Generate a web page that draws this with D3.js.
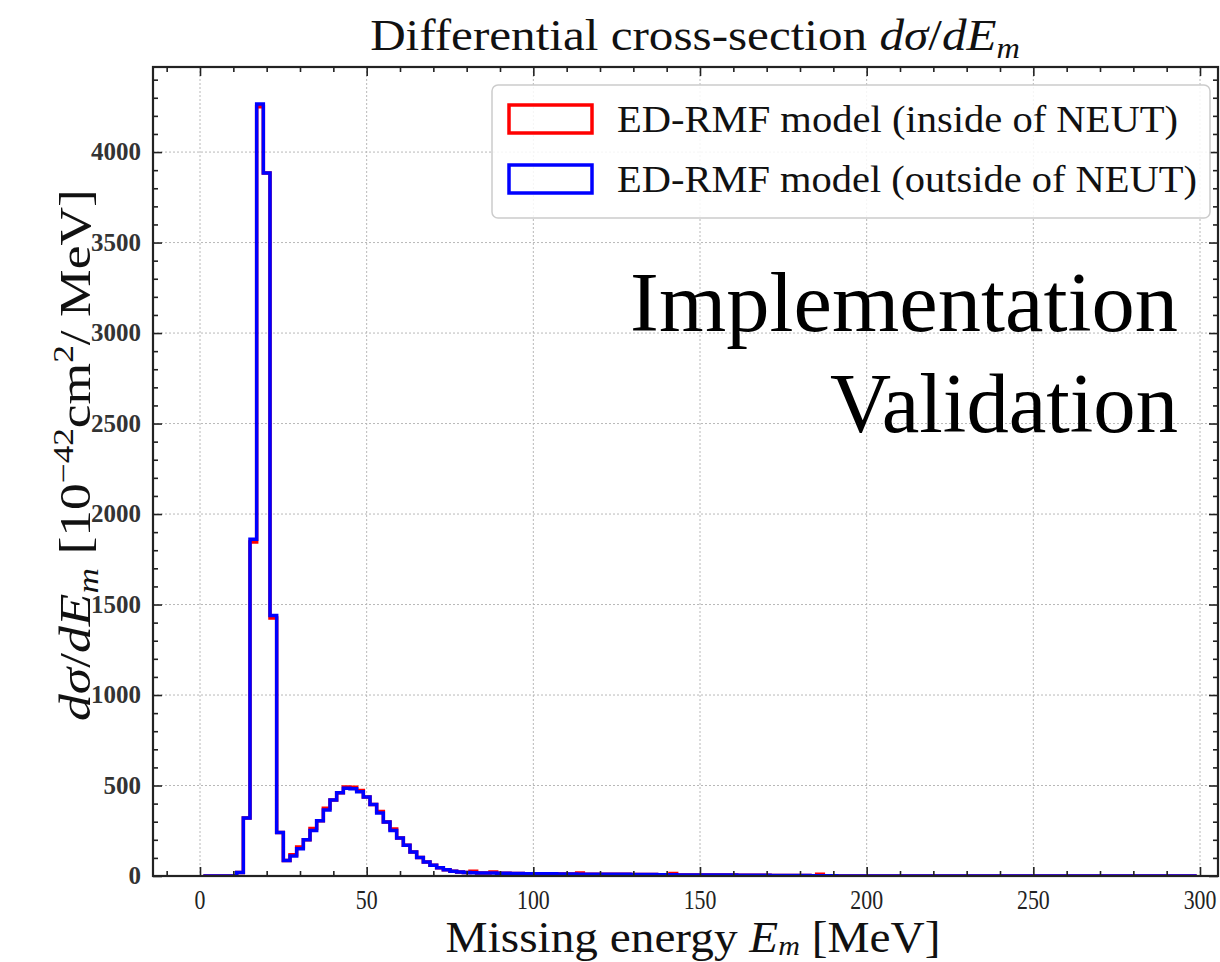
<!DOCTYPE html>
<html>
<head>
<meta charset="utf-8">
<script src="https://cdn.jsdelivr.net/npm/d3@7"></script>
<style>
  html, body { margin: 0; padding: 0; background: #fff; }
  svg { display: block; font-family: "Liberation Serif", "DejaVu Serif", serif; }
</style>
</head>
<body>
<div id="chart"></div>
<script>
// Bin edges of the missing-energy histogram (MeV), 2 MeV wide
const binEdges = d3.range(1, 300, 2);

// ED-RMF model computed outside of NEUT (blue)
const outsideValues = [
  0, 0, 0, 0, 0,
  20, 320, 1860, 4265, 3885,
  1440, 240, 85, 110, 150,
  200, 252, 305, 365, 420,
  460, 485, 482, 465, 436,
  395, 348, 298, 252, 210,
  170, 133, 102, 78, 60,
  45, 34, 26, 22, 20,
  18, 17, 16, 16, 15,
  15, 14, 14, 13, 13,
  12, 12, 12, 11, 11,
  11, 10, 10, 10, 10,
  9, 9, 9, 9, 8,
  8, 8, 8, 7, 7,
  7, 6, 6, 6, 6,
  5, 5, 5, 5, 5,
  4, 4, 4, 4, 4,
  3, 3, 3, 3, 3,
  3, 2, 2, 2, 2,
  0, 0, 0, 0, 0, 0, 0, 0, 0, 0,
  0, 0, 0, 0, 0, 0, 0, 0, 0, 0,
  0, 0, 0, 0, 0, 0, 0, 0, 0, 0,
  0, 0, 0, 0, 0, 0, 0, 0, 0, 0,
  0, 0, 0, 0, 0, 0, 0, 0, 0, 0,
  0, 0, 0, 0
];

// ED-RMF model implemented inside NEUT (red)
const insideValues = [
  0, 0, 0, 0, 0,
  20, 320, 1845, 4250, 3885,
  1425, 240, 85, 118, 160,
  200, 262, 305, 375, 420,
  460, 492, 490, 472, 436,
  395, 356, 298, 260, 210,
  170, 133, 102, 78, 60,
  45, 34, 26, 22, 20,
  26, 17, 16, 22, 15,
  15, 14, 14, 13, 13,
  12, 12, 12, 11, 11,
  11, 17, 10, 10, 10,
  9, 9, 9, 9, 8,
  8, 8, 8, 7, 7,
  14, 6, 6, 6, 6,
  5, 5, 5, 5, 5,
  4, 4, 4, 4, 4,
  3, 3, 3, 3, 3,
  3, 2, 9, 2, 2,
  0, 0, 0, 0, 0, 0, 0, 0, 0, 0,
  0, 0, 0, 0, 0, 0, 0, 0, 0, 0,
  0, 0, 0, 0, 0, 0, 0, 0, 0, 0,
  0, 0, 0, 0, 0, 0, 0, 0, 0, 0,
  0, 0, 0, 0, 0, 0, 0, 0, 0, 0,
  0, 0, 0, 0
];

const xTicks = [0, 50, 100, 150, 200, 250, 300];
const yTicks = [0, 500, 1000, 1500, 2000, 2500, 3000, 3500, 4000];
const legendLabels = ["ED-RMF model (inside of NEUT)", "ED-RMF model (outside of NEUT)"];

const W = 1220, H = 962;
const plot = { left: 153, top: 67, right: 1218, bottom: 876 };

const svg = d3.select("#chart").append("svg")
  .attr("width", W).attr("height", H);

const x = d3.scaleLinear().domain([-14.1, 305.4]).range([plot.left, plot.right]);
const y = d3.scaleLinear().domain([0, 4470]).range([plot.bottom, plot.top]);

// stretch/squeeze a text element horizontally to a target width
function fitWidth(sel, cx, cy, target) {
  const w = sel.node().getBBox().width;
  sel.attr("transform", `translate(${cx},${cy}) scale(${target / w},1)`);
}

// grid
const grid = svg.append("g").attr("stroke", "#b8b8b8").attr("stroke-width", 1)
  .attr("stroke-dasharray", "2,2");
xTicks.forEach(t => grid.append("line")
  .attr("x1", x(t)).attr("x2", x(t)).attr("y1", plot.top).attr("y2", plot.bottom));
yTicks.forEach(t => grid.append("line")
  .attr("x1", plot.left).attr("x2", plot.right).attr("y1", y(t)).attr("y2", y(t)));

// step histograms
function stepPath(vals) {
  const pts = [[binEdges[0], 0]];
  vals.forEach((v, i) => {
    pts.push([binEdges[i], v]);
    pts.push([binEdges[i + 1], v]);
  });
  pts.push([binEdges[vals.length], 0]);
  return d3.line().x(d => x(d[0])).y(d => y(d[1]))(pts);
}

svg.append("clipPath").attr("id", "clip").append("rect")
  .attr("x", plot.left).attr("y", plot.top)
  .attr("width", plot.right - plot.left).attr("height", plot.bottom - plot.top);

const series = [
  { vals: insideValues, color: "#ff0000" },
  { vals: outsideValues, color: "#0000ff" }
];
svg.append("g").attr("clip-path", "url(#clip)")
  .selectAll("path").data(series).enter().append("path")
  .attr("d", d => stepPath(d.vals))
  .attr("fill", "none")
  .attr("stroke", d => d.color)
  .attr("stroke-width", 3.5)
  .attr("stroke-linejoin", "miter");

// axes with inward ticks (major + minor) on all sides
const axes = svg.append("g");
const xMinor = d3.range(-10, 306, 10).filter(v => v % 50 !== 0);
const yMinor = d3.range(100, 4470, 100).filter(v => v % 500 !== 0);

axes.append("g").attr("transform", `translate(0,${plot.bottom})`)
  .call(d3.axisBottom(x).tickValues(xTicks).tickSize(-9).tickFormat(""));
axes.append("g").attr("transform", `translate(0,${plot.bottom})`)
  .call(d3.axisBottom(x).tickValues(xMinor).tickSize(-5).tickFormat(""));
axes.append("g").attr("transform", `translate(0,${plot.top})`)
  .call(d3.axisTop(x).tickValues(xTicks).tickSize(-9).tickFormat(""));
axes.append("g").attr("transform", `translate(0,${plot.top})`)
  .call(d3.axisTop(x).tickValues(xMinor).tickSize(-5).tickFormat(""));
axes.append("g").attr("transform", `translate(${plot.left},0)`)
  .call(d3.axisLeft(y).tickValues(yTicks).tickSize(-9).tickFormat(""));
axes.append("g").attr("transform", `translate(${plot.left},0)`)
  .call(d3.axisLeft(y).tickValues(yMinor).tickSize(-5).tickFormat(""));
axes.append("g").attr("transform", `translate(${plot.right},0)`)
  .call(d3.axisRight(y).tickValues(yTicks).tickSize(-9).tickFormat(""));
axes.append("g").attr("transform", `translate(${plot.right},0)`)
  .call(d3.axisRight(y).tickValues(yMinor).tickSize(-5).tickFormat(""));
axes.selectAll(".domain").remove();
axes.selectAll(".tick line").attr("stroke", "#222").attr("stroke-width", 1.6);

svg.append("rect")
  .attr("x", plot.left).attr("y", plot.top)
  .attr("width", plot.right - plot.left).attr("height", plot.bottom - plot.top)
  .attr("fill", "none").attr("stroke", "#222").attr("stroke-width", 2.2);

// tick labels (tall, narrow digits as in the source image)
svg.append("g").selectAll("text").data(xTicks).enter().append("text")
  .attr("text-anchor", "middle").attr("font-size", 28)
  .attr("fill", "#222")
  .attr("transform", d => `translate(${x(d)},909) scale(0.78,1)`)
  .text(d => d);
svg.append("g").selectAll("text").data(yTicks).enter().append("text")
  .attr("x", 141).attr("y", d => y(d) + 8)
  .attr("text-anchor", "end").attr("font-size", 25).attr("font-weight", "bold")
  .attr("fill", "#333")
  .text(d => d);

// title
const title = svg.append("text").attr("text-anchor", "middle").attr("font-size", 44).attr("fill", "#111");
title.append("tspan").text("Differential cross-section ");
title.append("tspan").attr("font-style", "italic").text("dσ");
title.append("tspan").text("/");
title.append("tspan").attr("font-style", "italic").text("dE");
title.append("tspan").attr("font-style", "italic").attr("font-size", 29).attr("dy", 8).text("m");
fitWidth(title, 695, 50, 650);

// x label
const xl = svg.append("text").attr("text-anchor", "middle").attr("font-size", 44).attr("fill", "#111");
xl.append("tspan").text("Missing energy ");
xl.append("tspan").attr("font-style", "italic").text("E");
xl.append("tspan").attr("font-style", "italic").attr("font-size", 28).attr("dy", 3).text("m");
xl.append("tspan").attr("dy", -3).text(" [MeV]");
fitWidth(xl, 693, 952, 495);

// y label
const ylg = svg.append("g").attr("transform", "translate(90,455) rotate(-90)");
const yl = ylg.append("text").attr("text-anchor", "middle").attr("font-size", 44).attr("fill", "#111");
yl.append("tspan").attr("font-style", "italic").text("dσ");
yl.append("tspan").text("/");
yl.append("tspan").attr("font-style", "italic").text("dE");
yl.append("tspan").attr("font-style", "italic").attr("font-size", 29).attr("dy", 8).text("m");
yl.append("tspan").attr("dy", -8).text(" [10");
yl.append("tspan").attr("font-size", 29).attr("dy", -17).text("−42");
yl.append("tspan").attr("dy", 17).text("cm");
yl.append("tspan").attr("font-size", 29).attr("dy", -17).text("2");
yl.append("tspan").attr("dy", 17).text("/ MeV]");
fitWidth(yl, 0, 0, 532);

// legend
const lg = svg.append("g");
lg.append("rect")
  .attr("x", 492).attr("y", 85).attr("width", 718).attr("height", 133)
  .attr("rx", 6).attr("fill", "#fff").attr("fill-opacity", 0.85)
  .attr("stroke", "#cccccc").attr("stroke-width", 1.5);
const entries = lg.selectAll("g.entry").data(legendLabels).enter().append("g")
  .attr("class", "entry");
entries.append("rect")
  .attr("x", 509).attr("y", (d, i) => 105 + i * 60)
  .attr("width", 83).attr("height", 28)
  .attr("fill", "none").attr("stroke", (d, i) => series[i].color).attr("stroke-width", 3.5);
entries.append("text")
  .attr("font-size", 38).attr("fill", "#111")
  .text(d => d)
  .each(function(d, i) {
    const target = i === 0 ? 561 : 580;
    fitWidth(d3.select(this), 617, 132 + i * 60, target);
  });

// annotation
const note = svg.append("g").attr("font-size", 84).attr("fill", "#000").attr("text-anchor", "end");
const n1 = note.append("text").text("Implementation");
fitWidth(n1, 1178, 331, 548);
const n2 = note.append("text").text("Validation");
fitWidth(n2, 1178, 432, 348);
</script>
</body>
</html>
